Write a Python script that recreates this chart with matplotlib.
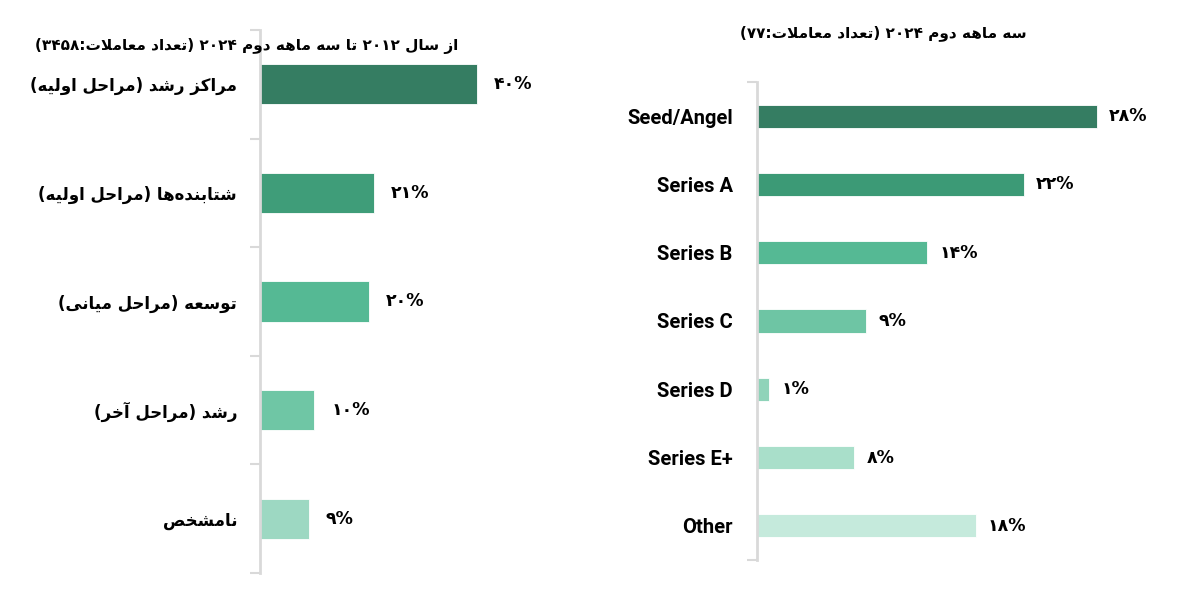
import re
import matplotlib
matplotlib.use("Agg")
import matplotlib.pyplot as plt
import numpy as np

# data
left_title = "از سال ۲۰۱۲ تا سه ماهه دوم ۲۰۲۴ (تعداد معاملات:۳۴۵۸)"
left_cats = ["مراکز رشد (مراحل اولیه)", "شتابنده\u200cها (مراحل اولیه)",
             "توسعه (مراحل میانی)", "رشد (مراحل آخر)", "نامشخص"]
left_vals = [40, 21, 20, 10, 9]
left_labels = ["۴۰%", "۲۱%", "۲۰%", "۱۰%", "۹%"]

right_title = "سه ماهه دوم ۲۰۲۴ (تعداد معاملات:۷۷)"
right_cats = ["Seed/Angel", "Series A", "Series B", "Series C", "Series D", "Series E+", "Other"]
right_vals = [28, 22, 14, 9, 1, 8, 18]
right_labels = ["۲۸%", "۲۲%", "۱۴%", "۹%", "۱%", "۸%", "۱۸%"]

left_colors = ["#357d62", "#3f9d79", "#55b994", "#6fc6a5", "#9dd8c2"]
right_colors = ["#357d62", "#3c9a76", "#55b994", "#6ec5a4", "#8fd3b9", "#a9dfca", "#c5eadc"]

# arabic presentation forms: iso, fin, ini, med
FORMS = {
    'ا': ('\uFE8D', '\uFE8E', None, None),
    'آ': ('\uFE81', '\uFE82', None, None),
    'ب': ('\uFE8F', '\uFE90', '\uFE91', '\uFE92'),
    'ت': ('\uFE95', '\uFE96', '\uFE97', '\uFE98'),
    'ح': ('\uFEA1', '\uFEA2', '\uFEA3', '\uFEA4'),
    'خ': ('\uFEA5', '\uFEA6', '\uFEA7', '\uFEA8'),
    'د': ('\uFEA9', '\uFEAA', None, None),
    'ر': ('\uFEAD', '\uFEAE', None, None),
    'ز': ('\uFEAF', '\uFEB0', None, None),
    'س': ('\uFEB1', '\uFEB2', '\uFEB3', '\uFEB4'),
    'ش': ('\uFEB5', '\uFEB6', '\uFEB7', '\uFEB8'),
    'ص': ('\uFEB9', '\uFEBA', '\uFEBB', '\uFEBC'),
    'ع': ('\uFEC9', '\uFECA', '\uFECB', '\uFECC'),
    'ک': ('\uFB8E', '\uFB8F', '\uFB90', '\uFB91'),
    'ل': ('\uFEDD', '\uFEDE', '\uFEDF', '\uFEE0'),
    'م': ('\uFEE1', '\uFEE2', '\uFEE3', '\uFEE4'),
    'ن': ('\uFEE5', '\uFEE6', '\uFEE7', '\uFEE8'),
    'ه': ('\uFEE9', '\uFEEA', '\uFEEB', '\uFEEC'),
    'و': ('\uFEED', '\uFEEE', None, None),
    'ی': ('\uFBFC', '\uFBFD', '\uFBFE', '\uFBFF'),
}


def shape(text):
    out = []
    n = len(text)
    i = 0
    prev = False
    while i < n:
        c = text[i]
        if c == 'ل' and i + 1 < n and text[i + 1] == 'ا':
            out.append('\uFEFC' if prev else '\uFEFB')
            prev = False
            i += 2
            continue
        if c in FORMS:
            iso, fin, ini, med = FORMS[c]
            nxt = text[i + 1] if i + 1 < n else ''
            joins = ini is not None and nxt in FORMS
            if prev and joins:
                g = med
            elif prev:
                g = fin
            elif joins:
                g = ini
            else:
                g = iso
            out.append(g)
            prev = joins
        else:
            if c != '\u200c':
                out.append(c)
            prev = False
        i += 1
    return ''.join(out)


def rtl(text):
    s = shape(text)
    runs = re.findall(r'[0-9۰-۹A-Za-z%]+|[^0-9۰-۹A-Za-z%]+', s)
    res = []
    for r in reversed(runs):
        if re.match(r'[0-9۰-۹A-Za-z%]', r):
            res.append(r)
        else:
            res.append(r[::-1].translate(str.maketrans('()', ')(')))
    return ''.join(res)


W, H = 1177, 600
fig = plt.figure(figsize=(W / 100, H / 100), dpi=100)
fa = ['DejaVu Sans']
grey = '#d9d9d9'

# left panel
axl = fig.add_axes([260 / W, 27 / H, 300 / W, 543 / H])
yl = np.arange(len(left_vals))
axl.barh(yl, left_vals, height=0.37, color=left_colors, edgecolor='white', linewidth=0.6)
axl.set_xlim(0, 300 / 5.43)
axl.set_ylim(len(left_vals) - 0.5, -0.5)
axl.set_yticks(yl)
axl.set_yticklabels([rtl(c) for c in left_cats], family=fa, fontweight='bold', fontsize=12)
axl.set_yticks(np.arange(-0.5, len(left_vals), 1), minor=True)
axl.tick_params(axis='y', which='major', length=0, pad=16.5)
axl.tick_params(axis='y', which='minor', length=7, width=1.5, color=grey)
axl.set_xticks([])
for s in ['top', 'right', 'bottom']:
    axl.spines[s].set_visible(False)
axl.spines['left'].set_color(grey)
axl.spines['left'].set_linewidth(2)
for y, v, lab in zip(yl, left_vals, left_labels):
    axl.text(v + 3.1, y, lab, va='center', ha='left', family=fa, fontweight='bold', fontsize=12.5)

# right panel
axr = fig.add_axes([757 / W, 40 / H, 400 / W, 478 / H])
yr = np.arange(len(right_vals))
axr.barh(yr, right_vals, height=0.34, color=right_colors, edgecolor='white', linewidth=0.6)
axr.set_xlim(0, 400 / 12.14)
axr.set_ylim(len(right_vals) - 0.5, -0.5)
axr.set_yticks(yr)
axr.set_yticklabels(right_cats, family=['Roboto', 'DejaVu Sans'], fontweight='bold', fontsize=14.5)
axr.set_yticks([-0.5, len(right_vals) - 0.5], minor=True)
axr.tick_params(axis='y', which='major', length=0, pad=17.5)
axr.tick_params(axis='y', which='minor', length=7, width=1.5, color=grey)
axr.set_xticks([])
for s in ['top', 'right', 'bottom']:
    axr.spines[s].set_visible(False)
axr.spines['left'].set_color(grey)
axr.spines['left'].set_linewidth(2)
for y, v, lab in zip(yr, right_vals, right_labels):
    axr.text(v + 1.0, y, lab, va='center', ha='left', family=fa, fontweight='bold', fontsize=12.5)

fig.text(458 / W, 1 - 46 / H, rtl(left_title), ha='right', va='center', family=fa, fontweight='bold', fontsize=11)
fig.text(1027 / W, 1 - 33 / H, rtl(right_title), ha='right', va='center', family=fa, fontweight='bold', fontsize=11)

fig.savefig('out.png', dpi=100)
